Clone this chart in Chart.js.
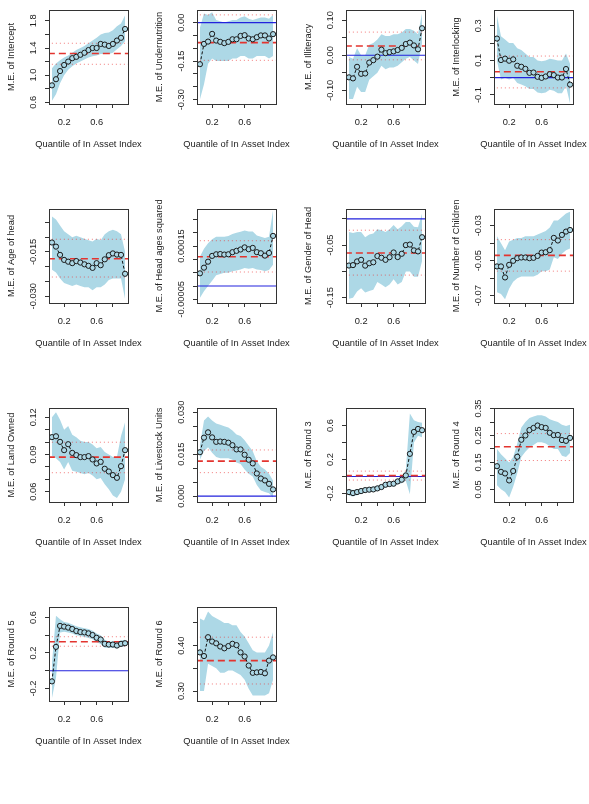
<!DOCTYPE html>
<html>
<head>
<meta charset="utf-8">
<script src="https://cdn.jsdelivr.net/npm/chart.js@4.4.0/dist/chart.umd.min.js"></script>
<style>
html, body { margin:0; padding:0; background:#fff; width:589px; height:804px; overflow:hidden; position:relative; }
canvas { position:absolute; }
</style>
</head>
<body>
<script>
// x values: quantiles of ln asset index
var quantiles = [0.05,0.10,0.15,0.20,0.25,0.30,0.35,0.40,0.45,0.50,0.55,0.60,0.65,0.70,0.75,0.80,0.85,0.90,0.95];
var xTicks = [0.2, 0.4, 0.6, 0.8];
var xTickLabels = ['0.2', '0.6'];
var xTitle = 'Quantile of In Asset Index';

var yTitles = ['M.E. of Intercept','M.E. of Undernutrition','M.E. of Illiteracy','M.E. of Interlocking',
  'M.E. of Age of head','M.E. of Head ages squared','M.E. of Gender of Head','M.E. of Number of Children',
  'M.E. of Land Owned','M.E. of Livestock Units','M.E. of Round 3','M.E. of Round 4',
  'M.E. of Round 5','M.E. of Round 6'];

// quantile regression estimates and bands
var estIntercept = [0.85,0.94,1.06,1.15,1.20,1.25,1.27,1.30,1.33,1.37,1.40,1.40,1.46,1.45,1.43,1.46,1.51,1.55,1.68];
var loIntercept  = [0.62,0.72,0.88,1.00,1.08,1.13,1.17,1.20,1.23,1.26,1.28,1.29,1.31,1.31,1.31,1.33,1.38,1.43,1.50];
var hiIntercept  = [1.10,1.17,1.22,1.26,1.29,1.33,1.37,1.40,1.43,1.47,1.51,1.55,1.60,1.62,1.63,1.66,1.72,1.76,1.88];

var estUnder = [-0.162,-0.083,-0.074,-0.044,-0.070,-0.075,-0.080,-0.075,-0.065,-0.065,-0.052,-0.049,-0.062,-0.065,-0.057,-0.050,-0.050,-0.062,-0.045];
var loUnder  = [-0.30,-0.24,-0.16,-0.14,-0.15,-0.15,-0.15,-0.15,-0.14,-0.14,-0.13,-0.13,-0.14,-0.14,-0.13,-0.13,-0.13,-0.14,-0.13];
var hiUnder  = [-0.02,0.035,0.03,0.04,0.01,0.005,0.0,0.005,0.01,0.01,0.02,0.025,0.015,0.01,0.015,0.02,0.02,0.015,0.03];

var estIllit = [-0.063,-0.066,-0.033,-0.053,-0.052,-0.021,-0.014,-0.004,0.016,0.006,0.009,0.011,0.015,0.021,0.032,0.036,0.028,0.017,0.077];
var loIllit  = [-0.125,-0.125,-0.09,-0.105,-0.105,-0.07,-0.06,-0.05,-0.03,-0.04,-0.035,-0.035,-0.03,-0.02,-0.01,-0.005,-0.015,-0.025,0.035];
var hiIllit  = [-0.005,-0.01,0.02,0.0,0.0,0.03,0.035,0.045,0.06,0.055,0.055,0.06,0.06,0.065,0.075,0.075,0.07,0.06,0.12];

var estInter = [0.226,0.102,0.110,0.098,0.106,0.069,0.063,0.051,0.028,0.030,0.005,-0.001,0.007,0.020,0.015,0.001,0.001,0.050,-0.040];
var loInter  = [0.10,-0.01,0.0,-0.01,0.0,-0.03,-0.04,-0.05,-0.065,-0.065,-0.085,-0.09,-0.085,-0.07,-0.075,-0.09,-0.09,-0.05,-0.15];
var hiInter  = [0.36,0.24,0.22,0.20,0.20,0.17,0.16,0.14,0.12,0.12,0.10,0.095,0.10,0.11,0.105,0.10,0.10,0.14,0.08];

var estAge = [-0.0118,-0.0132,-0.0160,-0.0177,-0.0183,-0.0188,-0.0181,-0.0186,-0.0192,-0.0197,-0.0204,-0.0188,-0.0195,-0.0175,-0.0161,-0.0155,-0.0159,-0.0160,-0.0224];
var loAge  = [-0.021,-0.022,-0.024,-0.0255,-0.026,-0.0265,-0.026,-0.0265,-0.027,-0.027,-0.028,-0.027,-0.027,-0.026,-0.0245,-0.024,-0.024,-0.024,-0.031];
var hiAge  = [-0.003,-0.004,-0.006,-0.008,-0.009,-0.010,-0.0095,-0.010,-0.0105,-0.011,-0.0115,-0.0105,-0.011,-0.009,-0.008,-0.0075,-0.008,-0.009,-0.015];

var estAgeSq = [0.0000475,0.0000688,0.0000913,0.000113,0.000119,0.00012,0.000118,0.000119,0.000127,0.000132,0.000137,0.000145,0.000138,0.000143,0.000127,0.000123,0.000114,0.000124,0.000188];
var loAgeSq  = [-0.000045,-0.00002,0.0,0.00002,0.00004,0.000045,0.00005,0.00005,0.000055,0.000058,0.000062,0.000068,0.000065,0.000068,0.000062,0.00006,0.000055,0.00006,0.00008];
var hiAgeSq  = [0.00011,0.00014,0.00016,0.000175,0.000185,0.000185,0.000185,0.000188,0.000195,0.0002,0.000204,0.000208,0.000205,0.000205,0.00019,0.000185,0.00018,0.000185,0.000285];

var estGender = [-0.0888,-0.088,-0.081,-0.078,-0.089,-0.0845,-0.0826,-0.0708,-0.074,-0.078,-0.073,-0.064,-0.0727,-0.0665,-0.050,-0.049,-0.060,-0.062,-0.035];
var loGender  = [-0.152,-0.15,-0.138,-0.132,-0.14,-0.137,-0.135,-0.12,-0.125,-0.13,-0.125,-0.115,-0.125,-0.12,-0.10,-0.10,-0.11,-0.11,-0.08];
var hiGender  = [-0.025,-0.027,-0.025,-0.025,-0.035,-0.03,-0.028,-0.02,-0.022,-0.025,-0.02,-0.012,-0.02,-0.014,-0.006,-0.006,-0.015,-0.016,0.01];

var estChild = [-0.0533,-0.0533,-0.0596,-0.0524,-0.0501,-0.0486,-0.0482,-0.0482,-0.0486,-0.0484,-0.0473,-0.0454,-0.0452,-0.044,-0.037,-0.0385,-0.0353,-0.0334,-0.0325];
var loChild  = [-0.068,-0.069,-0.072,-0.066,-0.062,-0.06,-0.059,-0.059,-0.059,-0.059,-0.058,-0.056,-0.056,-0.055,-0.048,-0.049,-0.046,-0.044,-0.043];
var hiChild  = [-0.036,-0.04,-0.044,-0.039,-0.038,-0.037,-0.037,-0.036,-0.036,-0.036,-0.035,-0.034,-0.033,-0.031,-0.027,-0.027,-0.025,-0.023,-0.022];

var estLand = [0.104,0.1047,0.1002,0.0935,0.0983,0.0913,0.0895,0.0879,0.0879,0.0887,0.086,0.0828,0.0841,0.0785,0.0763,0.0734,0.0712,0.0806,0.0935];
var loLand  = [0.089,0.087,0.084,0.078,0.084,0.077,0.076,0.075,0.074,0.075,0.073,0.070,0.071,0.066,0.062,0.057,0.055,0.060,0.070];
var hiLand  = [0.120,0.124,0.118,0.110,0.113,0.106,0.104,0.101,0.100,0.100,0.098,0.095,0.096,0.092,0.090,0.088,0.088,0.105,0.116];

var estStock = [0.0157,0.0209,0.0228,0.0210,0.0194,0.0195,0.0194,0.0191,0.0182,0.0167,0.0167,0.0148,0.0130,0.0117,0.0081,0.0063,0.0056,0.0044,0.0024];
var loStock  = [0.013,0.016,0.0175,0.0155,0.014,0.0135,0.0135,0.0135,0.013,0.012,0.0115,0.0095,0.008,0.007,0.004,0.002,0.0015,0.001,-0.0005];
var hiStock  = [0.018,0.027,0.0285,0.027,0.026,0.0255,0.025,0.0245,0.0235,0.022,0.0215,0.020,0.018,0.016,0.0125,0.0105,0.0095,0.008,0.0055];

var estR3 = [-0.183,-0.195,-0.183,-0.171,-0.160,-0.155,-0.152,-0.140,-0.124,-0.097,-0.089,-0.085,-0.058,-0.038,0.0125,0.266,0.524,0.559,0.544];
var loR3  = [-0.225,-0.235,-0.22,-0.205,-0.19,-0.185,-0.18,-0.17,-0.155,-0.13,-0.12,-0.115,-0.09,-0.08,-0.05,-0.21,0.40,0.48,0.46];
var hiR3  = [-0.145,-0.16,-0.15,-0.14,-0.13,-0.125,-0.12,-0.11,-0.095,-0.065,-0.06,-0.055,-0.025,0.0,0.07,0.74,0.66,0.64,0.63];

var estR4 = [0.136,0.115,0.109,0.083,0.118,0.171,0.234,0.250,0.270,0.278,0.287,0.281,0.278,0.260,0.251,0.252,0.233,0.230,0.241];
var loR4  = [0.065,0.05,0.04,0.02,0.06,0.11,0.17,0.19,0.205,0.215,0.225,0.225,0.22,0.21,0.20,0.20,0.175,0.17,0.185];
var hiR4  = [0.20,0.18,0.165,0.15,0.17,0.22,0.28,0.30,0.315,0.32,0.325,0.325,0.32,0.31,0.305,0.30,0.29,0.285,0.29];

var estR5 = [-0.12,0.269,0.505,0.497,0.486,0.470,0.448,0.436,0.432,0.421,0.402,0.371,0.352,0.303,0.295,0.295,0.284,0.303,0.310];
var loR5  = [-0.31,-0.08,0.43,0.44,0.43,0.42,0.40,0.39,0.38,0.37,0.355,0.32,0.30,0.26,0.26,0.26,0.25,0.27,0.27];
var hiR5  = [0.08,0.62,0.58,0.55,0.54,0.52,0.50,0.49,0.48,0.47,0.45,0.42,0.40,0.35,0.33,0.33,0.32,0.34,0.35];

var estR6 = [0.385,0.377,0.4185,0.409,0.405,0.398,0.394,0.399,0.404,0.401,0.385,0.376,0.356,0.340,0.341,0.342,0.339,0.367,0.374];
var loR6  = [0.30,0.30,0.36,0.355,0.35,0.34,0.34,0.345,0.345,0.34,0.335,0.325,0.305,0.29,0.29,0.29,0.29,0.295,0.325];
var hiR6  = [0.46,0.455,0.475,0.465,0.46,0.455,0.45,0.45,0.445,0.445,0.43,0.42,0.405,0.39,0.385,0.385,0.385,0.40,0.43];

// OLS estimate and its interval
var olsMean = [1.32,-0.078,0.0265,0.034,-0.0173,0.00011,-0.065,-0.047,0.0879,0.0125,0.01,0.208,0.326,0.367];
var olsLow  = [1.16,-0.147,-0.013,-0.059,-0.0235,0.0000525,-0.107,-0.056,0.0753,0.0084,-0.042,0.157,0.276,0.3155];
var olsHigh = [1.47,0.03,0.066,0.125,-0.0107,0.00017,-0.0217,-0.038,0.0999,0.0165,0.063,0.257,0.383,0.4185];

// axis ranges and ticks
var yMin = [0.575,-0.317,-0.139,-0.152,-0.0323,-0.0000638,-0.160,-0.0742,0.0517,-0.0021,-0.30,0.003,-0.341,0.278];
var yMax = [1.96,0.049,0.129,0.391,-0.00045,0.000289,0.0186,-0.0205,0.1275,0.0315,0.805,0.352,0.718,0.485];
var yTicks = [
  [0.6,0.8,1.0,1.2,1.4,1.6,1.8],
  [-0.30,-0.25,-0.20,-0.15,-0.10,-0.05,0.00],
  [-0.10,-0.05,0.00,0.05,0.10],
  [-0.1,0.0,0.1,0.2,0.3],
  [-0.030,-0.025,-0.020,-0.015,-0.010,-0.005],
  [-0.00005,0,0.00005,0.0001,0.00015,0.0002,0.00025],
  [-0.15,-0.10,-0.05,0.00],
  [-0.07,-0.06,-0.05,-0.04,-0.03],
  [0.06,0.07,0.08,0.09,0.10,0.11,0.12],
  [0.000,0.005,0.010,0.015,0.020,0.025,0.030],
  [-0.2,0.0,0.2,0.4,0.6],
  [0.05,0.10,0.15,0.20,0.25,0.30,0.35],
  [-0.2,0.0,0.2,0.4,0.6],
  [0.30,0.35,0.40,0.45]
];
var yTickLabels = [
  ['0.6','1.0','1.4','1.8'],
  ['-0.30','-0.15','0.00'],
  ['-0.10','0.00','0.10'],
  ['-0.1','0.1','0.3'],
  ['-0.030','-0.015'],
  ['-0.00005','0.00015'],
  ['-0.15','-0.05'],
  ['-0.07','-0.05','-0.03'],
  ['0.06','0.09','0.12'],
  ['0.000','0.015','0.030'],
  ['-0.2','0.2','0.6'],
  ['0.05','0.15','0.25','0.35'],
  ['-0.2','0.2','0.6'],
  ['0.30','0.40']
];

var est = [estIntercept,estUnder,estIllit,estInter,estAge,estAgeSq,estGender,estChild,estLand,estStock,estR3,estR4,estR5,estR6];
var lo  = [loIntercept,loUnder,loIllit,loInter,loAge,loAgeSq,loGender,loChild,loLand,loStock,loR3,loR4,loR5,loR6];
var hi  = [hiIntercept,hiUnder,hiIllit,hiInter,hiAge,hiAgeSq,hiGender,hiChild,hiLand,hiStock,hiR3,hiR4,hiR5,hiR6];

var FONT_FAMILY = "'Liberation Sans', Arial, Helvetica, sans-serif";
var FONT_SIZE = 9.3;
var BAND = '#ADD8E6';

function pts(arr) {
  return arr.map(function(v, k) { return {x: quantiles[k], y: v}; });
}
function hline(v) {
  return [{x: 0, y: v}, {x: 1, y: v}];
}

function drawPanel(i) {
  var col = i % 4, row = Math.floor(i / 4);
  var cv = document.createElement('canvas');
  cv.width = 145; cv.height = 164;
  cv.style.width = '145px'; cv.style.height = '164px';
  cv.style.left = Math.round(148.3 * col) + 'px';
  cv.style.top = (199 * row) + 'px';
  document.body.appendChild(cv);

  // R style box, rotated y tick labels and x title
  var rbox = {
    id: 'rbox' + i,
    afterDraw: function(chart) {
      var a = chart.chartArea, ctx = chart.ctx, ys = chart.scales.y;
      ctx.save();
      ctx.strokeStyle = '#333';
      ctx.lineWidth = 1;
      ctx.strokeRect(Math.round(a.left) + 0.5, Math.round(a.top) + 0.5,
                     Math.round(a.right - a.left), Math.round(a.bottom - a.top));
      ctx.fillStyle = '#222';
      ctx.font = FONT_SIZE + 'px ' + FONT_FAMILY;
      ctx.textAlign = 'center';
      ctx.textBaseline = 'middle';
      yTickLabels[i].forEach(function(t) {
        var py = ys.getPixelForValue(parseFloat(t));
        ctx.save();
        ctx.translate(a.left - 16, py);
        ctx.rotate(-Math.PI / 2);
        ctx.fillText(t, 0, 0);
        ctx.restore();
      });
      ctx.fillText(xTitle, (a.left + a.right) / 2, a.bottom + 40.5);
      ctx.restore();
    }
  };

  new Chart(cv.getContext('2d'), {
    type: 'line',
    data: {
      datasets: [
        {data: pts(est[i]), borderColor: '#111', borderWidth: 1, borderDash: [3, 2],
         pointRadius: 2.6, pointBorderWidth: 1, pointBorderColor: '#1a1a1a',
         pointBackgroundColor: BAND, order: 0},
        {data: hline(olsMean[i]), borderColor: '#e3342f', borderWidth: 1.6, borderDash: [7, 4],
         pointRadius: 0, order: 1},
        {data: hline(olsHigh[i]), borderColor: 'rgba(235,50,50,0.65)', borderWidth: 1, borderDash: [1, 3],
         pointRadius: 0, order: 1},
        {data: hline(olsLow[i]), borderColor: 'rgba(235,50,50,0.65)', borderWidth: 1, borderDash: [1, 3],
         pointRadius: 0, order: 1},
        {data: hline(0), borderColor: '#2222dd', borderWidth: 1.2, pointRadius: 0, order: 2},
        {data: pts(hi[i]), borderWidth: 0, borderColor: BAND, pointRadius: 0,
         fill: '+1', backgroundColor: BAND, order: 3},
        {data: pts(lo[i]), borderWidth: 0, borderColor: BAND, pointRadius: 0, fill: false, order: 4}
      ]
    },
    options: {
      responsive: false,
      animation: false,
      devicePixelRatio: 1,
      layout: {padding: {left: 0, right: 17, top: 10, bottom: 0}},
      plugins: {legend: {display: false}, tooltip: {enabled: false}},
      scales: {
        x: {
          type: 'linear', min: 0.014, max: 0.986,
          afterBuildTicks: function(s) { s.ticks = xTicks.map(function(v) { return {value: v}; }); },
          afterFit: function(s) { s.height = 60; },
          grid: {drawOnChartArea: false, drawTicks: true, tickLength: 4, color: '#333'},
          border: {display: false},
          ticks: {
            autoSkip: false, maxRotation: 0, minRotation: 0, padding: 9, color: '#222',
            font: {family: FONT_FAMILY, size: FONT_SIZE},
            callback: function(v) {
              var s = v.toFixed(1);
              return xTickLabels.indexOf(s) >= 0 ? s : '';
            }
          }
        },
        y: {
          min: yMin[i], max: yMax[i],
          afterBuildTicks: function(s) { s.ticks = yTicks[i].map(function(v) { return {value: v}; }); },
          afterFit: function(s) { s.width = 49; },
          grid: {drawOnChartArea: false, drawTicks: true, tickLength: 4, color: '#333'},
          border: {display: false},
          ticks: {display: false},
          title: {display: true, text: yTitles[i], color: '#222',
                  font: {family: FONT_FAMILY, size: FONT_SIZE}, padding: {top: 6, bottom: 0}}
        }
      }
    },
    plugins: [rbox]
  });
}

for (var i = 0; i < yTitles.length; i++) {
  drawPanel(i);
}
</script>
</body>
</html>
